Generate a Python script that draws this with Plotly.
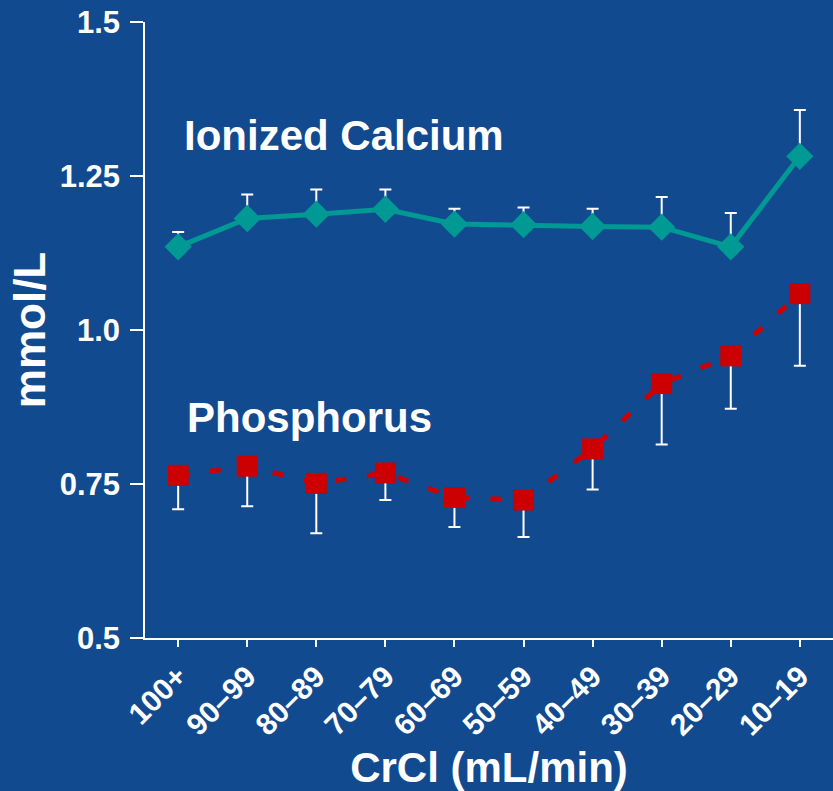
import plotly.graph_objs as go

# CrCl groups (mL/min)
categories = ['100+', '90–99', '80–89', '70–79', '60–69',
              '50–59', '40–49', '30–39', '20–29', '10–19']

# Ionized calcium (mmol/L) and upper error
calcium = [1.135, 1.181, 1.188, 1.196, 1.172, 1.171, 1.168, 1.167, 1.135, 1.282]
calcium_err = [0.024, 0.039, 0.040, 0.032, 0.025, 0.028, 0.029, 0.049, 0.055, 0.075]

# Phosphorus (mmol/L) and lower error
phosphorus = [0.764, 0.779, 0.751, 0.768, 0.728, 0.724, 0.807, 0.913, 0.958, 1.059]
phosphorus_err = [0.055, 0.065, 0.081, 0.044, 0.048, 0.060, 0.066, 0.099, 0.086, 0.117]

y_ticks = [0.5, 0.75, 1.0, 1.25, 1.5]
y_tick_labels = ['0.5', '0.75', '1.0', '1.25', '1.5']

FONT = "Arial, 'Liberation Sans', sans-serif"
BG = '#124a90'

fig = go.Figure()

# Calcium : ligne pleine, losanges
fig.add_trace(go.Scatter(
    x=categories, y=calcium, mode='lines+markers', name='Ionized Calcium',
    line=dict(color='#009994', width=5),
    marker=dict(symbol='diamond', size=21, color='#009994'),
    error_y=dict(type='data', symmetric=False, array=calcium_err,
                 arrayminus=[0] * len(calcium), color='white',
                 thickness=2, width=6)))

# Phosphore : pointillés rouges, carrés
fig.add_trace(go.Scatter(
    x=categories, y=phosphorus, mode='lines+markers', name='Phosphorus',
    line=dict(color='#cc0000', width=5, dash='11px,21px'),
    marker=dict(symbol='square', size=21, color='#cc0000'),
    error_y=dict(type='data', symmetric=False, array=[0] * len(phosphorus),
                 arrayminus=phosphorus_err, color='white',
                 thickness=2, width=6)))

fig.add_annotation(text='Ionized Calcium', xref='paper', yref='y',
                   x=0.054, y=1.316, xanchor='left', yanchor='middle',
                   showarrow=False,
                   font=dict(family=FONT, size=42, color='white', weight='bold'))
fig.add_annotation(text='Phosphorus', xref='paper', yref='y',
                   x=0.058, y=0.858, xanchor='left', yanchor='middle',
                   showarrow=False,
                   font=dict(family=FONT, size=42, color='white', weight='bold'))

fig.update_layout(
    width=833, height=791,
    margin=dict(l=145, r=0, t=22, b=153),
    paper_bgcolor=BG, plot_bgcolor=BG,
    showlegend=False,
    font=dict(family=FONT, color='white', weight='bold'),
)

fig.update_xaxes(
    type='category', range=[-0.48, 9.48],
    showgrid=False, zeroline=False,
    showline=True, linecolor='white', linewidth=1.5,
    ticks='outside', ticklen=7, tickcolor='white', tickwidth=1.5,
    tickangle=-45,
    tickfont=dict(family=FONT, size=30, color='white', weight='bold'),
    title=dict(text='CrCl (mL/min)', standoff=14,
               font=dict(family=FONT, size=42, color='white', weight='bold')))

fig.update_yaxes(
    range=[0.5, 1.5], tickvals=y_ticks, ticktext=y_tick_labels,
    showgrid=False, zeroline=False,
    showline=True, linecolor='white', linewidth=1.5,
    ticks='outside', ticklen=13, tickcolor='white', tickwidth=1.5,
    ticklabelstandoff=4,
    tickfont=dict(family=FONT, size=31, color='white', weight='bold'),
    title=dict(text='mmol/L', standoff=0,
               font=dict(family=FONT, size=44, color='white', weight='bold')))

# enlever la marge blanche de la page et la barre d'outils
fig.write_html("out.html", config={'displayModeBar': False},
               post_script="document.body.style.margin='0';")
